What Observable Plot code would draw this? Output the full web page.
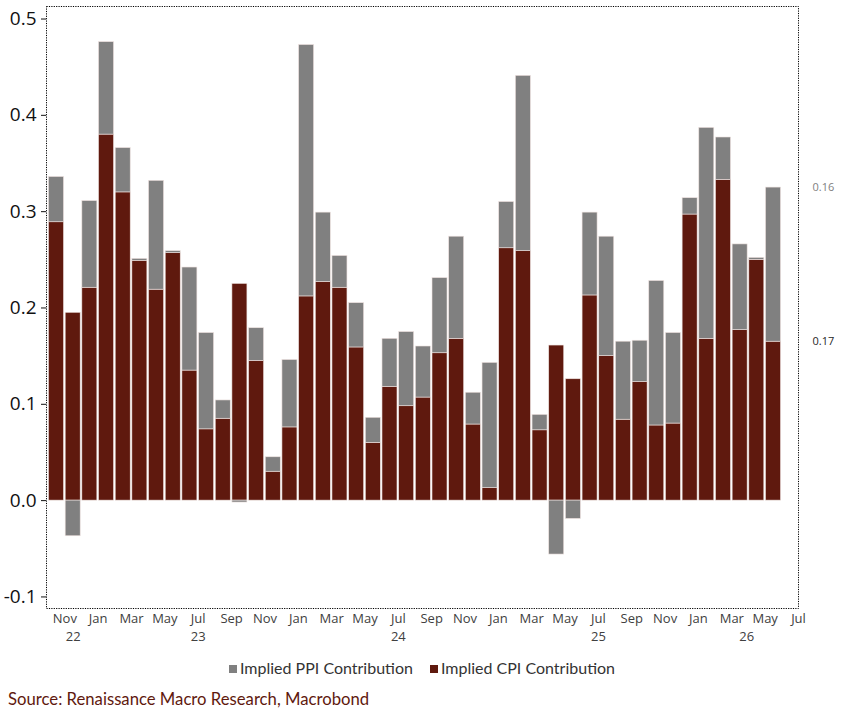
<!DOCTYPE html>
<html><head><meta charset="utf-8">
<script src="https://cdn.jsdelivr.net/npm/d3@7"></script>
<script src="https://cdn.jsdelivr.net/npm/@observablehq/plot@0.6"></script>
<style>
body{margin:0;background:#fff;width:844px;height:711px;overflow:hidden;position:relative;font-family:"Open Sans",sans-serif}
#chart{position:absolute;left:0;top:0}
#legend{position:absolute;top:658px;left:0;width:844px;text-align:center;font-family:Lato,sans-serif;font-size:16px;color:#333;white-space:nowrap}
#legend span.item + span.item{margin-left:17px}
.sw{display:inline-block;width:8px;height:8px;margin-right:3px;vertical-align:1px}
#source{position:absolute;left:8px;top:689px;font-family:Lato,sans-serif;font-size:16.7px;color:#5f190e;white-space:nowrap}
</style></head><body>
<div id="chart"></div>
<div id="legend"><span class="item"><span class="sw" style="background:#808080"></span>Implied PPI Contribution</span><span class="item"><span class="sw" style="background:#5f190e"></span>Implied CPI Contribution</span></div>
<div id="source">Source: Renaissance Macro Research, Macrobond</div>
<script>
const months = ["2022-11","2022-12","2023-01","2023-02","2023-03","2023-04","2023-05","2023-06","2023-07","2023-08","2023-09","2023-10",
  "2023-11","2023-12","2024-01","2024-02","2024-03","2024-04","2024-05","2024-06","2024-07","2024-08","2024-09","2024-10",
  "2024-11","2024-12","2025-01","2025-02","2025-03","2025-04","2025-05","2025-06","2025-07","2025-08","2025-09","2025-10",
  "2025-11","2025-12","2026-01","2026-02","2026-03","2026-04","2026-05","2026-06"];
const cpi = [0.289,0.195,0.221,0.380,0.320,0.249,0.219,0.257,0.135,0.074,0.085,0.225,
  0.145,0.030,0.076,0.212,0.227,0.221,0.159,0.060,0.118,0.098,0.107,0.153,
  0.168,0.079,0.013,0.262,0.259,0.073,0.161,0.126,0.213,0.150,0.084,0.123,
  0.078,0.080,0.297,0.168,0.333,0.177,0.250,0.165];
const ppi = [0.047,-0.037,0.090,0.096,0.046,0.002,0.113,0.002,0.107,0.100,0.019,-0.002,
  0.034,0.015,0.070,0.261,0.072,0.033,0.046,0.026,0.050,0.077,0.053,0.078,
  0.106,0.033,0.130,0.048,0.182,0.016,-0.056,-0.019,0.086,0.124,0.081,0.043,
  0.150,0.094,0.017,0.219,0.044,0.089,0.002,0.160];
const yTicks = [-0.1,0.0,0.1,0.2,0.3,0.4,0.5];
const monthNames = ["Jan","Feb","Mar","Apr","May","Jun","Jul","Aug","Sep","Oct","Nov","Dec"];
const yearLabels = ["22","23","24","25","26"];
const yearAt = [1.0, 8.5, 20.5, 32.5, 41.4];

const data = [];
months.forEach((m, i) => {
  data.push({i, month: m, series: "CPI", v: cpi[i]});
  data.push({i, month: m, series: "PPI", v: ppi[i]});
});
const startMonth = +months[0].slice(5) - 1;
const monthTicks = d3.range(0, 45, 2);
const last = months.length - 1;
const lastLabels = [
  {series: "PPI", y: cpi[last] + Math.max(ppi[last], 0), text: ppi[last].toFixed(2), color: "#808080"},
  {series: "CPI", y: cpi[last], text: cpi[last].toFixed(2), color: "#262626"}
];

const chart = Plot.plot({
  width: 844, height: 650,
  marginLeft: 46, marginRight: 46, marginTop: 6, marginBottom: 42,
  style: {fontFamily: "'Open Sans', sans-serif", background: "#fff"},
  x: {domain: [-0.6, 44.5], axis: null},
  y: {domain: [-0.112, 0.513], axis: null},
  color: {domain: ["PPI", "CPI"], range: ["#808080", "#5f190e"]},
  marks: [
    Plot.rectY(data, Plot.stackY({
      x1: d => d.i - 0.45, x2: d => d.i + 0.45, y: "v", fill: "series",
      order: ["CPI", "PPI"], stroke: "#eee2df", strokeWidth: 0.6
    })),
    Plot.frame({stroke: "#000", strokeDasharray: "1.2,1.2"}),
    Plot.axisY(yTicks, {anchor: "left", tickSize: 5, tickPadding: 5, fontSize: 19,
      tickFormat: d => d.toFixed(1), color: "#111"}),
    Plot.axisX(monthTicks.map(k => k + 0.5), {anchor: "bottom", tickSize: 0, tickPadding: 5, fontSize: 13,
      tickFormat: d => monthNames[(startMonth + Math.round(d - 0.5)) % 12], color: "#404040"}),
    Plot.text(yearLabels, {x: (d, i) => yearAt[i], frameAnchor: "bottom", dy: 32, fontSize: 13,
      text: d => d, fill: "#404040"}),
    Plot.text(lastLabels, {x: 44.5, y: "y", dx: 14, textAnchor: "start", text: "text",
      fill: "color", fontSize: 11})
  ]
});
document.getElementById("chart").appendChild(chart);
</script>
</body></html>
